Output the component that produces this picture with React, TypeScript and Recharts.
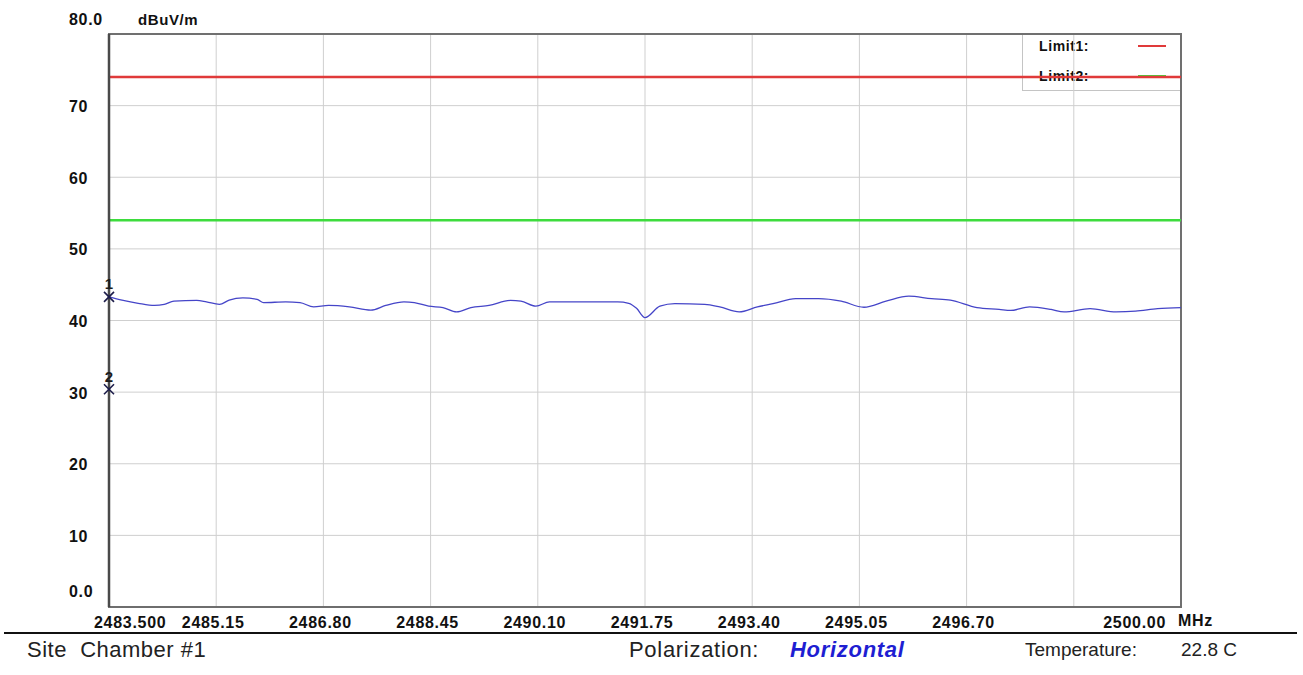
import {
  CartesianGrid,
  Line,
  LineChart,
  ReferenceArea,
  ReferenceDot,
  ReferenceLine,
  XAxis,
  YAxis
} from "recharts";

const freqs = [
  2483.5, 2483.7, 2483.95, 2484.2, 2484.35, 2484.5, 2484.85, 2485.0, 2485.2,
  2485.35, 2485.56, 2485.78, 2485.88, 2486.22, 2486.44, 2486.65, 2486.88,
  2487.2, 2487.53, 2487.76, 2488.04, 2488.2, 2488.42, 2488.64, 2488.85,
  2489.07, 2489.35, 2489.68, 2489.84, 2490.07, 2490.28, 2490.78, 2491.05,
  2491.33, 2491.5, 2491.62, 2491.75, 2491.98, 2492.21, 2492.67, 2492.9,
  2493.2, 2493.48, 2493.72, 2494.07, 2494.42, 2494.77, 2495.12, 2495.46,
  2495.81, 2496.16, 2496.45, 2496.86, 2497.2, 2497.38, 2497.67, 2498.0,
  2498.2, 2498.6, 2499.0, 2499.3, 2499.64, 2500.0
];

const levels = [
  43.3, 42.85, 42.4, 42.1, 42.25, 42.7, 42.8, 42.6, 42.25, 42.85, 43.15,
  42.95, 42.5, 42.6, 42.5, 41.9, 42.1, 41.9, 41.45, 42.1, 42.6, 42.5, 42.0,
  41.8, 41.2, 41.8, 42.1, 42.8, 42.7, 42.0, 42.6, 42.6, 42.6, 42.6, 42.4,
  41.7, 40.4, 42.0, 42.35, 42.25, 41.9, 41.2, 41.9, 42.35, 43.05, 43.05, 42.7,
  41.85, 42.7, 43.4, 43.05, 42.85, 41.8, 41.55, 41.4, 41.9, 41.55, 41.2,
  41.65, 41.2, 41.3, 41.65, 41.8
];

const xTicks = [
  2483.5, 2485.15, 2486.8, 2488.45, 2490.1, 2491.75, 2493.4, 2495.05, 2496.7,
  2498.35, 2500
];
const xTickLabels = [
  "2483.500", "2485.15", "2486.80", "2488.45", "2490.10", "2491.75",
  "2493.40", "2495.05", "2496.70", "", "2500.00"
];

const yTicks = [0, 10, 20, 30, 40, 50, 60, 70, 80];
const yTickLabels = ["0.0", "10", "20", "30", "40", "50", "60", "70", "80.0"];

const limitNames = ["Limit1:", "Limit2:"];
const limitValues = [74, 54];
const limitColors = ["#e03a3a", "#3ddc3d"];

const markerIds = ["1", "2"];
const markerFreqs = [2483.5, 2483.5];
const markerLevels = [43.3, 30.4];

const data = freqs.map((f, i) => ({ freq: f, level: levels[i] }));

const FONT = "'Liberation Sans', Arial, Helvetica, sans-serif";

function XTick(props: any) {
  const { x, index } = props;
  const last = xTicks.length - 1;
  let anchor: "start" | "middle" | "end" = "middle";
  let tx = x - 3;
  if (index === 0) {
    anchor = "start";
    tx = x - 15;
  } else if (index === last) {
    anchor = "end";
    tx = x - 15;
  }
  return (
    <text
      x={tx}
      y={622}
      textAnchor={anchor}
      dominantBaseline="central"
      fontFamily={FONT}
      fontWeight="bold"
      fontSize={16}
      letterSpacing={0.7}
      fill="#111"
    >
      {xTickLabels[index]}
    </text>
  );
}

function YTick(props: any) {
  const { y, index } = props;
  const v = yTicks[index];
  let dy = 1;
  if (v === 80) dy = -15;
  if (v === 0) dy = -16;
  return (
    <text
      x={69}
      y={y + dy}
      textAnchor="start"
      dominantBaseline="central"
      fontFamily={FONT}
      fontWeight="bold"
      fontSize={16}
      letterSpacing={0.7}
      fill="#111"
    >
      {yTickLabels[index]}
    </text>
  );
}

function markerShape(id: string) {
  return (p: any) => {
    const { cx, cy } = p;
    return (
      <g>
        <line x1={cx - 5} y1={cy - 5} x2={cx + 5} y2={cy + 5} stroke="#1c1c4a" strokeWidth={1.6} />
        <line x1={cx - 5} y1={cy + 5} x2={cx + 5} y2={cy - 5} stroke="#1c1c4a" strokeWidth={1.6} />
        <text
          x={cx}
          y={cy - 13}
          textAnchor="middle"
          dominantBaseline="central"
          fontFamily={FONT}
          fontWeight="bold"
          fontSize={15}
          fill="#1c1c1c"
        >
          {id}
        </text>
      </g>
    );
  };
}

export default function App() {
  return (
    <div
      style={{
        position: "absolute",
        left: 0,
        top: 0,
        width: 1303,
        height: 675,
        background: "#fff",
        overflow: "hidden",
        fontFamily: FONT
      }}
    >
      {/* legend box sits under the svg so the limit line crosses it */}
      <div
        style={{
          position: "absolute",
          left: 1022,
          top: 33,
          width: 158,
          height: 56,
          background: "#fff",
          border: "1px solid #c4c4c4",
          zIndex: 1
        }}
      >
        {limitNames.map((name, i) => (
          <div key={name}>
            <div
              style={{
                position: "absolute",
                left: 16,
                top: 4 + i * 30,
                fontSize: 14,
                fontWeight: "bold",
                letterSpacing: 0.6,
                lineHeight: "16px",
                color: "#111"
              }}
            >
              {name}
            </div>
            <div
              style={{
                position: "absolute",
                left: 115,
                top: 11 + i * 30,
                width: 28,
                height: 2,
                background: limitColors[i]
              }}
            />
          </div>
        ))}
      </div>

      <div style={{ position: "absolute", left: 0, top: 0, zIndex: 2 }}>
        <LineChart
          width={1303}
          height={640}
          data={data}
          margin={{ top: 34, right: 122, bottom: 3, left: 49 }}
        >
          <CartesianGrid stroke="#cfcfcf" strokeWidth={1} />
          <XAxis
            dataKey="freq"
            type="number"
            domain={[2483.5, 2500]}
            ticks={xTicks}
            interval={0}
            height={30}
            tickLine={false}
            axisLine={{ stroke: "#6e6e6e", strokeWidth: 2 }}
            tick={<XTick />}
          />
          <YAxis
            type="number"
            domain={[0, 80]}
            ticks={yTicks}
            interval={0}
            width={60}
            tickLine={false}
            axisLine={{ stroke: "#4a4a4a", strokeWidth: 2.5 }}
            tick={<YTick />}
          />
          <ReferenceArea
            x1={2483.5}
            x2={2500}
            y1={0}
            y2={80}
            fill="none"
            fillOpacity={0}
            stroke="#707070"
            strokeWidth={2}
          />
          {limitValues.map((v, i) => (
            <ReferenceLine key={i} y={v} stroke={limitColors[i]} strokeWidth={2.5} />
          ))}
          <Line
            type="monotone"
            dataKey="level"
            stroke="#4545c8"
            strokeWidth={1.3}
            dot={false}
            isAnimationActive={false}
          />
          {markerIds.map((id, i) => (
            <ReferenceDot
              key={id}
              x={markerFreqs[i]}
              y={markerLevels[i]}
              r={4}
              shape={markerShape(id)}
            />
          ))}
        </LineChart>
      </div>

      <div
        style={{
          position: "absolute",
          left: 138,
          top: 11,
          fontSize: 15,
          fontWeight: "bold",
          letterSpacing: 0.6,
          lineHeight: "18px",
          color: "#111",
          zIndex: 3
        }}
      >
        dBuV/m
      </div>
      <div
        style={{
          position: "absolute",
          left: 1178,
          top: 612,
          fontSize: 16,
          fontWeight: "bold",
          letterSpacing: 0.7,
          lineHeight: "18px",
          color: "#111",
          zIndex: 3
        }}
      >
        MHz
      </div>

      <div
        style={{
          position: "absolute",
          left: 4,
          top: 632,
          width: 1293,
          height: 2,
          background: "#111"
        }}
      />
      <div
        style={{
          position: "absolute",
          left: 27,
          top: 639,
          fontSize: 22,
          lineHeight: "22px",
          letterSpacing: 0.5,
          whiteSpace: "pre",
          color: "#222"
        }}
      >
        {"Site  Chamber #1"}
      </div>
      <div
        style={{
          position: "absolute",
          left: 629,
          top: 639,
          fontSize: 22,
          lineHeight: "22px",
          letterSpacing: 0.7,
          color: "#222"
        }}
      >
        Polarization:
      </div>
      <div
        style={{
          position: "absolute",
          left: 790,
          top: 639,
          fontSize: 22,
          lineHeight: "22px",
          letterSpacing: 0.7,
          fontWeight: "bold",
          fontStyle: "italic",
          color: "#1e1ed2"
        }}
      >
        Horizontal
      </div>
      <div
        style={{
          position: "absolute",
          left: 1025,
          top: 640,
          fontSize: 19,
          lineHeight: "19px",
          color: "#222"
        }}
      >
        Temperature:
      </div>
      <div
        style={{
          position: "absolute",
          left: 1181,
          top: 640,
          fontSize: 19,
          lineHeight: "19px",
          color: "#222"
        }}
      >
        22.8 C
      </div>
    </div>
  );
}
